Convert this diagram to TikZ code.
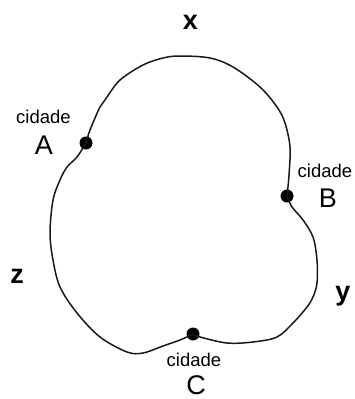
\documentclass[tikz,border=0pt]{standalone}
\usepackage{fontspec}
\setmainfont{Liberation Sans}
\usetikzlibrary{positioning}

\begin{document}
\begin{tikzpicture}[x=1pt, y=-1pt,
        dot/.style={circle, fill=black, inner sep=0pt, minimum size=13pt},
        road/.style={draw=black!90, line width=1.5pt, line join=round},
        city/.style={font=\fontsize{18.5}{18.5}\selectfont, inner sep=0pt},
        letter/.style={font=\fontsize{27}{27}\selectfont, inner sep=0pt},
        side/.style={font=\fontsize{27}{27}\selectfont\bfseries, inner sep=0pt}]
      \useasboundingbox (0,0) rectangle (354,399);
      \node[dot] (A) at (86,143) {};
      \node[dot] (B) at (287,196) {};
      \node[dot] (C) at (193,334) {};
      \draw[road] plot[smooth, tension=0.55] coordinates {(A.center) (90,130) (100,107)
        (107,97) (120,80) (143,65) (163,58) (180,56) (210,58) (233,67) (260,87)
        (277,107) (285,123) (290,147) (289,175) (B.center)};
      \draw[road] plot[smooth, tension=0.55] coordinates {(B.center) (292,207) (303,220)
        (313,237) (317,260) (317,283) (313,297) (307,307) (293,323) (277,337)
        (253,342) (227,343) (200,337) (C.center)};
      \draw[road] plot[smooth, tension=0.55] coordinates {(C.center) (180,340) (163,346)
        (143,353) (127,352) (100,337) (77,313) (60,287) (53,260) (50,233) (53,200)
        (60,180) (67,167) (77,157) (A.center)};
      \node[city] (cityA) at (43.5,117) {cidade};
      \node[letter] (nameA) at (44,145) {A};
      \node[city] (cityB) at (325,171) {cidade};
      \node[letter] (nameB) at (328,198) {B};
      \node[city] (cityC) at (194,360) {cidade};
      \node[letter] (nameC) at (196,385) {C};
      \node[side] (sideX) at (190.5,22) {x};
      \node[side] (sideY) at (343,296) {y};
      \node[side] (sideZ) at (17,276) {z};
\end{tikzpicture}
\end{document}
